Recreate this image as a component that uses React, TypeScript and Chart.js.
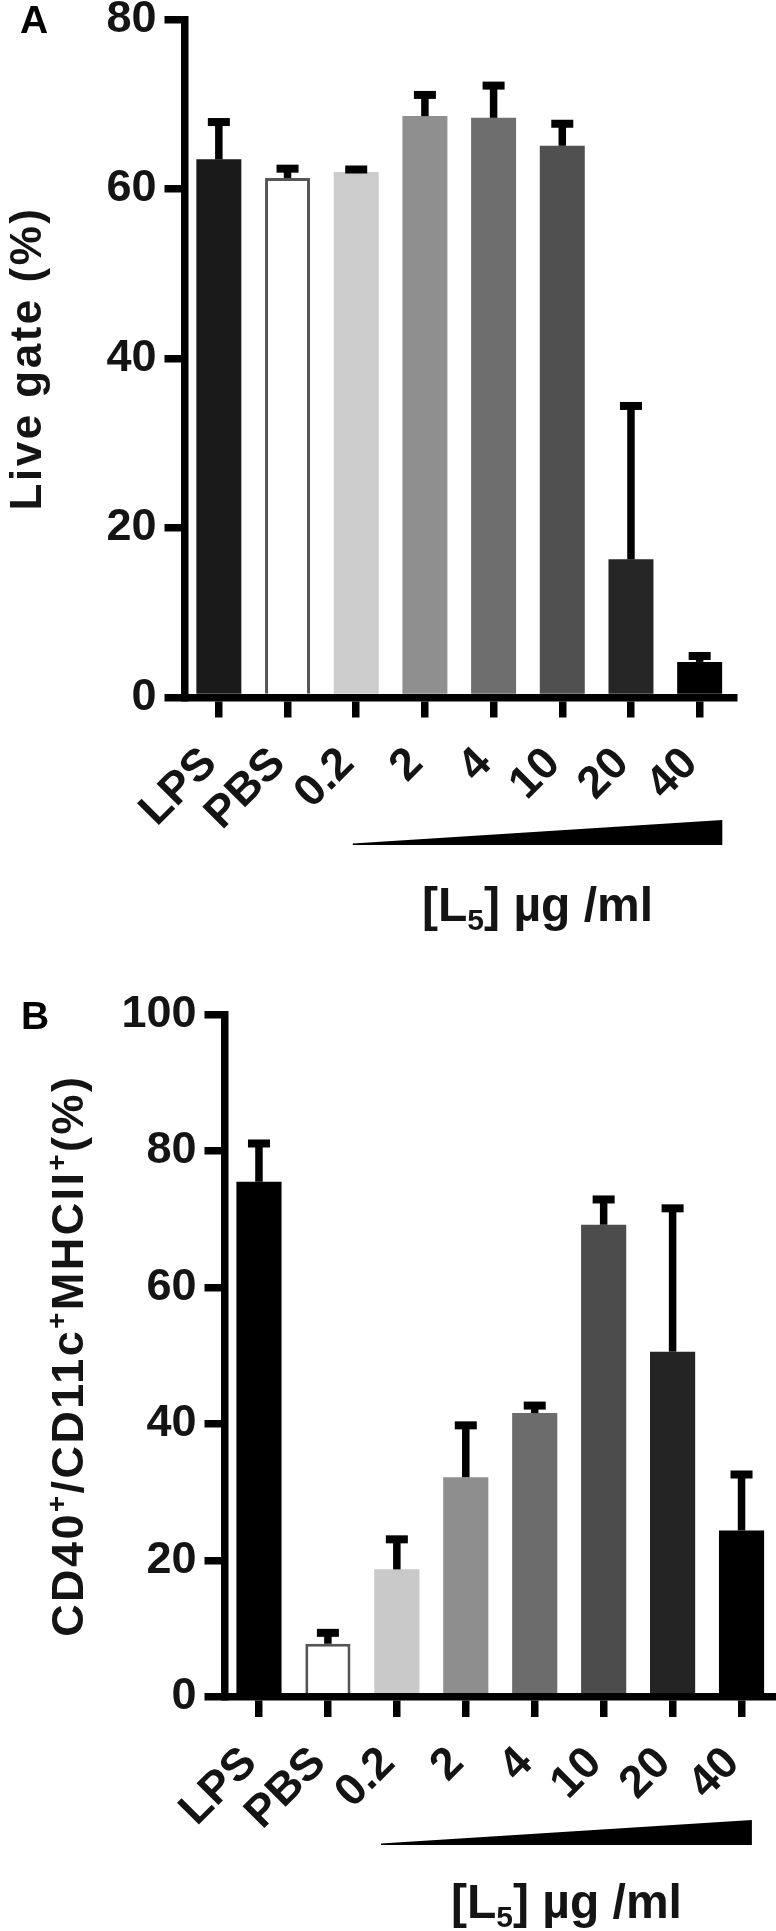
import React, { useEffect, useRef } from "react";
import { Chart, registerables } from "chart.js";

Chart.register(...registerables);

// ---------------- data ----------------
const categories = ["LPS", "PBS", "0.2", "2", "4", "10", "20", "40"];

const liveGateMean = [63.5, 61.3, 62.0, 68.6, 68.4, 65.1, 16.3, 4.2];
const liveGateSD = [4.4, 1.1, 0.3, 2.5, 3.8, 2.6, 18.1, 0.7];
const liveGateTicks = [0, 20, 40, 60, 80];

const cd40Mean = [75.5, 7.8, 18.7, 32.2, 41.6, 69.2, 50.6, 24.4];
const cd40SD = [5.6, 1.6, 4.4, 7.6, 1.1, 3.7, 21.0, 8.2];
const cd40Ticks = [0, 20, 40, 60, 80, 100];

// ---------------- styles ----------------
const fillA = ["#1a1a1a", "#ffffff", "#cccccc", "#8f8f8f", "#6e6e6e", "#505050", "#262626", "#000000"];
const fillB = ["#000000", "#ffffff", "#c9c9c9", "#8e8e8e", "#6c6c6c", "#4c4c4c", "#242424", "#000000"];
const OUTLINE = "#555555";

const FONT = '"Liberation Sans", Arial, Helvetica, sans-serif';
const INK = "#141414";
const W = 776;
const LW = 7.5;
const CAP_W = 22;
const CAP_H = 8;

type Seg = { text: string; size: number; shift?: number };

function drawSegs(ctx: CanvasRenderingContext2D, segs: Seg[], spacing: number, cx: number, baseline: number) {
  const c: any = ctx;
  let total = 0;
  const widths: number[] = [];
  segs.forEach((s) => {
    ctx.font = `bold ${s.size}px ${FONT}`;
    c.letterSpacing = `${spacing}px`;
    const w = ctx.measureText(s.text).width;
    widths.push(w);
    total += w;
  });
  let x = cx - total / 2;
  ctx.textAlign = "left";
  ctx.textBaseline = "alphabetic";
  segs.forEach((s, i) => {
    ctx.font = `bold ${s.size}px ${FONT}`;
    c.letterSpacing = `${spacing}px`;
    ctx.fillText(s.text, x, baseline + (s.shift || 0));
    x += widths[i];
  });
  c.letterSpacing = "0px";
}

type PanelCfg = {
  id: string;
  top: number;
  height: number;
  mean: number[];
  sd: number[];
  fills: string[];
  ticks: number[];
  max: number;
  area: { left: number; right: number; top: number; bottom: number };
  letter: string;
  letterX: number;
  letterBase: number;
  yTitle: Seg[];
  yTitleBase: number;
  yTitleSpacing: number;
  wedgeLeft: number;
  wedgeRight: number;
  wedgeTop: number;
  wedgeBottom: number;
  xTitleBase: number;
};

const xTitle: Seg[] = [
  { text: "[L", size: 48 },
  { text: "5", size: 30, shift: 9 },
  { text: "] µg /ml", size: 48 },
];

const panelA: PanelCfg = {
  id: "A",
  top: 0,
  height: 960,
  mean: liveGateMean,
  sd: liveGateSD,
  fills: fillA,
  ticks: liveGateTicks,
  max: 80,
  area: { left: 184.5, right: 734, top: 19.5, bottom: 697.5 },
  letter: "A",
  letterX: 20,
  letterBase: 33,
  yTitle: [{ text: "Live gate (%)", size: 44 }],
  yTitleBase: 41,
  yTitleSpacing: 2.5,
  wedgeLeft: -0.05,
  wedgeRight: 0.33,
  wedgeTop: 820,
  wedgeBottom: 845,
  xTitleBase: 921,
};

const panelB: PanelCfg = {
  id: "B",
  top: 960,
  height: 971,
  mean: cd40Mean,
  sd: cd40SD,
  fills: fillB,
  ticks: cd40Ticks,
  max: 100,
  area: { left: 224.5, right: 776, top: 54.5, bottom: 737 },
  letter: "B",
  letterX: 21,
  letterBase: 69,
  yTitle: [
    { text: "CD40", size: 45 },
    { text: "+", size: 28, shift: -17 },
    { text: "/CD11c", size: 45 },
    { text: "+", size: 28, shift: -17 },
    { text: "MHCII", size: 45 },
    { text: "+", size: 28, shift: -17 },
    { text: "(%)", size: 45 },
  ],
  yTitleBase: 83,
  yTitleSpacing: 2.4,
  wedgeLeft: -0.23,
  wedgeRight: 0.15,
  wedgeTop: 860,
  wedgeBottom: 885,
  xTitleBase: 958,
};

function makeOverlay(cfg: PanelCfg) {
  return {
    id: "overlay" + cfg.id,
    afterDatasetsDraw(chart: any) {
      const ctx: CanvasRenderingContext2D = chart.ctx;
      const ys = chart.scales.y;
      const meta = chart.getDatasetMeta(0);
      ctx.save();
      ctx.fillStyle = "#000000";
      meta.data.forEach((bar: any, i: number) => {
        const x = bar.x;
        const yb = ys.getPixelForValue(cfg.mean[i]);
        const ye = ys.getPixelForValue(cfg.mean[i] + cfg.sd[i]);
        ctx.fillRect(x - LW / 2, ye, LW, yb - ye);
        ctx.fillRect(x - CAP_W / 2, ye - CAP_H / 2, CAP_W, CAP_H);
      });
      ctx.restore();
    },
    afterDraw(chart: any) {
      const ctx: CanvasRenderingContext2D = chart.ctx;
      const xs = chart.scales.x;
      const band = xs.getPixelForValue(1) - xs.getPixelForValue(0);
      const wl = xs.getPixelForValue(2) + cfg.wedgeLeft * band;
      const wr = xs.getPixelForValue(7) + cfg.wedgeRight * band;
      ctx.save();
      // concentration wedge
      ctx.fillStyle = "#000000";
      ctx.beginPath();
      ctx.moveTo(wl, cfg.wedgeBottom);
      ctx.lineTo(wr, cfg.wedgeBottom);
      ctx.lineTo(wr, cfg.wedgeTop);
      ctx.lineTo(wl, cfg.wedgeBottom - 1.5);
      ctx.closePath();
      ctx.fill();
      // x title
      ctx.fillStyle = INK;
      drawSegs(ctx, xTitle, 0, (wl + wr) / 2, cfg.xTitleBase);
      // panel letter
      ctx.font = `bold 39px ${FONT}`;
      ctx.textAlign = "left";
      ctx.textBaseline = "alphabetic";
      ctx.fillStyle = "#000000";
      ctx.fillText(cfg.letter, cfg.letterX, cfg.letterBase);
      // y title
      const cy = (chart.chartArea.top + chart.chartArea.bottom) / 2;
      ctx.translate(cfg.yTitleBase, cy);
      ctx.rotate(-Math.PI / 2);
      ctx.fillStyle = INK;
      drawSegs(ctx, cfg.yTitle, cfg.yTitleSpacing, 0, 0);
      ctx.restore();
    },
  };
}

function Panel({ cfg }: { cfg: PanelCfg }) {
  const ref = useRef<HTMLCanvasElement | null>(null);
  useEffect(() => {
    const canvas = ref.current;
    if (!canvas) return;
    const H = cfg.height;
    const a = cfg.area;
    const axisGrid = {
      display: true,
      drawOnChartArea: false,
      color: "#000000",
      lineWidth: LW,
      tickLength: 20,
      tickWidth: LW,
      tickColor: "#000000",
      z: 1,
    };
    const axisBorder = { display: true, color: "#000000", width: LW, z: 1 };
    const chart = new Chart(canvas, {
      type: "bar",
      data: {
        labels: categories,
        datasets: [
          {
            data: cfg.mean,
            backgroundColor: cfg.fills,
            borderColor: cfg.fills.map((c) => (c === "#ffffff" ? OUTLINE : c)),
            borderWidth: cfg.fills.map((c) => (c === "#ffffff" ? 3 : 0)),
            barPercentage: 0.655,
            categoryPercentage: 1,
          },
        ],
      },
      options: {
        responsive: false,
        animation: false,
        devicePixelRatio: 1,
        layout: { padding: { left: 0, top: a.top, right: W - a.right, bottom: 0 } },
        plugins: {
          legend: { display: false },
          tooltip: { enabled: false },
          title: { display: false },
        },
        scales: {
          x: {
            type: "category",
            offset: true,
            grid: { ...axisGrid, offset: false },
            border: axisBorder,
            ticks: {
              autoSkip: false,
              minRotation: 45,
              maxRotation: 45,
              padding: 20,
              labelOffset: -9,
              color: INK,
              font: { family: FONT, size: 45, weight: "bold" },
            },
            afterFit: (s: any) => {
              s.height = H - a.bottom;
              s.paddingLeft = 0;
              s.paddingRight = 0;
            },
          },
          y: {
            min: 0,
            max: cfg.max,
            grid: axisGrid,
            border: axisBorder,
            afterBuildTicks: (s: any) => {
              s.ticks = cfg.ticks.map((v) => ({ value: v }));
            },
            ticks: {
              padding: 8,
              color: INK,
              font: { family: FONT, size: 45, weight: "bold" },
            },
            afterFit: (s: any) => {
              s.width = a.left;
              s.paddingTop = 0;
              s.paddingBottom = 0;
            },
          },
        },
      } as any,
      plugins: [makeOverlay(cfg)],
    });
    return () => chart.destroy();
  }, [cfg]);
  return (
    <canvas
      ref={ref}
      width={W}
      height={cfg.height}
      style={{ position: "absolute", left: 0, top: cfg.top, width: W, height: cfg.height, display: "block" }}
    />
  );
}

export default function App() {
  return (
    <div style={{ position: "absolute", left: 0, top: 0, width: W, height: 1931, background: "#ffffff" }}>
      <Panel cfg={panelA} />
      <Panel cfg={panelB} />
    </div>
  );
}
